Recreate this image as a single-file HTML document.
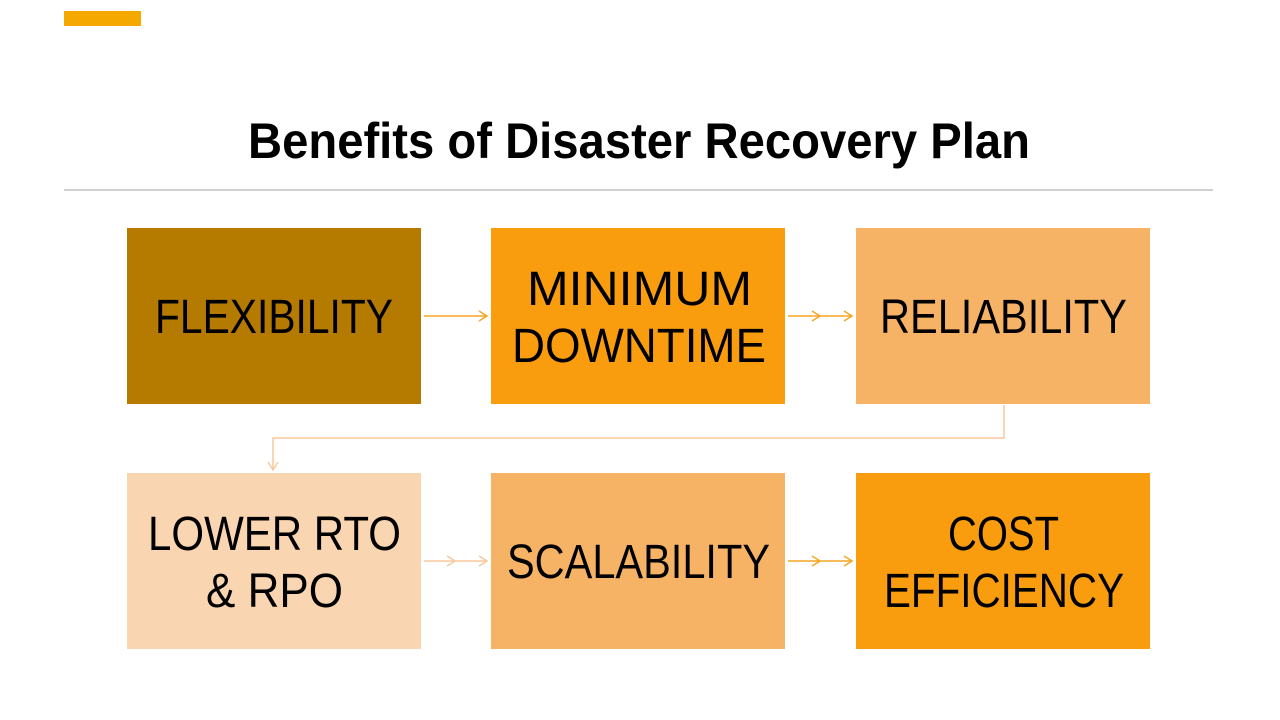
<!DOCTYPE html>
<html><head><meta charset="utf-8"><style>html,body{margin:0;padding:0;background:#fff;}svg{display:block}</style></head>
<body>
<svg width="1280" height="720" viewBox="0 0 1280 720" xmlns="http://www.w3.org/2000/svg" font-family="Liberation Sans, sans-serif">
<rect x="64" y="11" width="77" height="15" fill="#F5A800"/>
<text x="248" y="158" font-size="50" font-weight="bold" textLength="782" lengthAdjust="spacingAndGlyphs">Benefits of Disaster Recovery Plan</text>
<rect x="64" y="189" width="1149" height="2" fill="#D0D0D0"/>
<rect x="127" y="228" width="294" height="176" fill="#B57A00"/>
<rect x="491" y="228" width="294" height="176" fill="#F99D0F"/>
<rect x="856" y="228" width="294" height="176" fill="#F6B366"/>
<rect x="127" y="473" width="294" height="176" fill="#F9D5B2"/>
<rect x="491" y="473" width="294" height="176" fill="#F6B366"/>
<rect x="856" y="473" width="294" height="176" fill="#F99D0F"/>
<g font-size="48" fill="#000">
<text x="155" y="333" textLength="238" lengthAdjust="spacingAndGlyphs">FLEXIBILITY</text>
<text x="527" y="305" textLength="225" lengthAdjust="spacingAndGlyphs">MINIMUM</text>
<text x="512" y="362" textLength="254" lengthAdjust="spacingAndGlyphs">DOWNTIME</text>
<text x="880" y="333" textLength="247" lengthAdjust="spacingAndGlyphs">RELIABILITY</text>
<text x="148" y="550" textLength="253" lengthAdjust="spacingAndGlyphs">LOWER RTO</text>
<text x="206" y="607" textLength="137" lengthAdjust="spacingAndGlyphs">&amp; RPO</text>
<text x="507" y="578" textLength="263" lengthAdjust="spacingAndGlyphs">SCALABILITY</text>
<text x="948" y="550" textLength="111" lengthAdjust="spacingAndGlyphs">COST</text>
<text x="884" y="607" textLength="240" lengthAdjust="spacingAndGlyphs">EFFICIENCY</text>
</g>
<g fill="none" stroke-width="1.5">
<g stroke="#F5A623">
<path d="M424 316H487M479 311L487 316L479 321"/>
<path d="M788 316H820M812 311L820 316L812 321M820 316H852M844 311L852 316L844 321"/>
<path d="M788 561H820M812 556L820 561L812 566M820 561H852M844 556L852 561L844 566"/>
</g>
<g stroke="#F8C99C">
<path d="M424 561H455M447 556L455 561L447 566M455 561H487M479 556L487 561L479 566"/>
<path d="M1004 405V438H273V470M268 462L273 470L278 462"/>
</g>
</g>
</svg>
</body></html>
